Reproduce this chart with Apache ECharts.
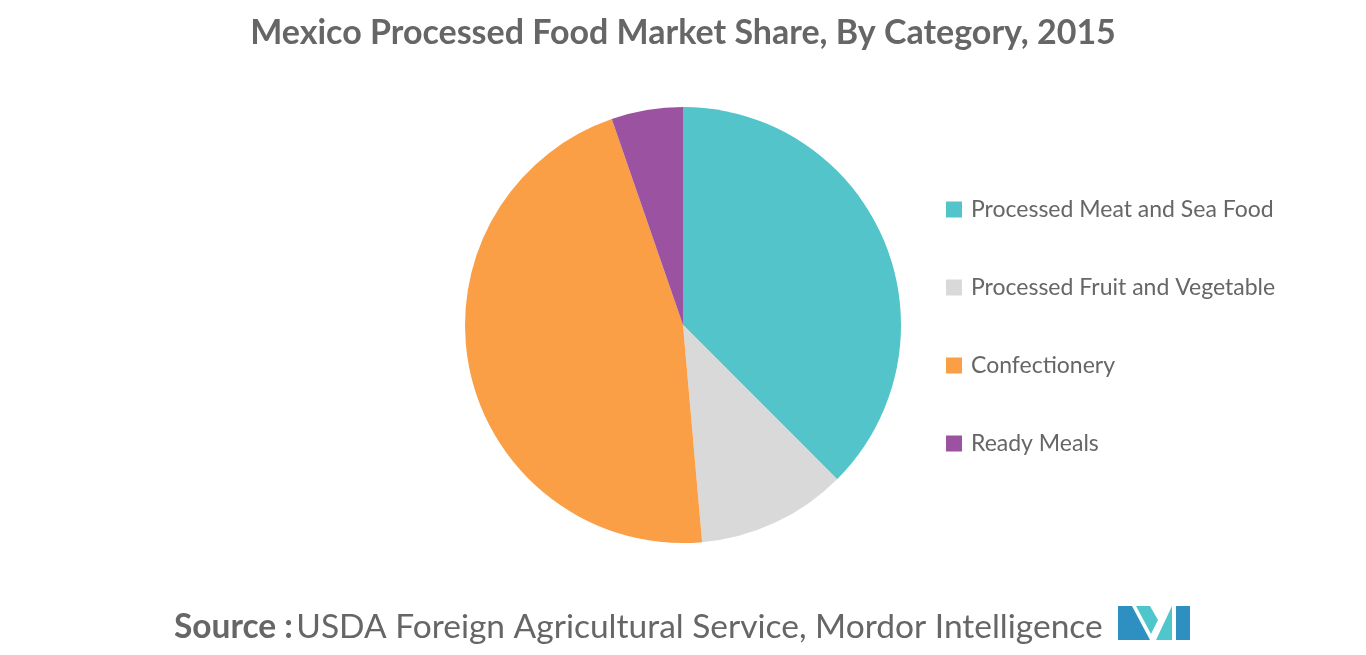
<!DOCTYPE html>
<html>
<head>
<meta charset="utf-8">
<script src="https://cdn.jsdelivr.net/npm/echarts@6/dist/echarts.min.js"></script>
<style>html,body{margin:0;padding:0;background:#fff}#main{width:1366px;height:655px}</style>
</head>
<body>
<div id="main"></div>
<script>
// 数据
const categories = ['Processed Meat and Sea Food', 'Processed Fruit and Vegetable', 'Confectionery', 'Ready Meals'];
const shares = [37.5, 11.1, 46.1, 5.3];
const colors = ['#52c4ca', '#d9d9d9', '#fb9f47', '#9b52a0'];

const chart = echarts.init(document.getElementById('main'));
const option = {
    animation: false,
    title: {
        text: 'Mexico Processed Food Market Share, By Category, 2015',
        left: 'center',
        top: 11,
        textStyle: { fontFamily: 'Lato', fontSize: 34, fontWeight: 'bold', color: '#666' }
    },
    legend: {
        orient: 'vertical',
        left: 941,
        top: 193,
        itemWidth: 16,
        itemHeight: 16,
        itemGap: 55,
        icon: 'rect',
        textStyle: { fontFamily: 'Lato', fontSize: 23, color: '#666', padding: [0, 0, 0, 4] },
        data: categories
    },
    graphic: [
        {
            type: 'text', left: 174, top: 610,
            style: {
                rich: {
                    b: { fontFamily: 'Lato', fontSize: 33.5, fontWeight: 'bold', fill: '#666' },
                    n: { fontFamily: 'Lato', fontSize: 33.5, fill: '#666' }
                },
                text: '{b|Source :} {n|USDA Foreign Agricultural Service, Mordor Intelligence}'
            }
        },
        { type: 'polygon', shape: { points: [[1118, 640], [1118, 606], [1132, 606], [1150, 640]] }, style: { fill: '#2e8fc1' } },
        { type: 'polygon', shape: { points: [[1136, 606], [1150, 606], [1158, 620], [1151, 634]] }, style: { fill: '#4fc6cc' } },
        { type: 'polygon', shape: { points: [[1156, 640], [1172, 606], [1172, 640]] }, style: { fill: '#4fc6cc' } },
        { type: 'polygon', shape: { points: [[1176, 606], [1190, 606], [1190, 640], [1176, 640]] }, style: { fill: '#2e8fc1' } }
    ],
    series: [{
        type: 'pie',
        center: [683, 325],
        radius: 218,
        startAngle: 90,
        clockwise: true,
        label: { show: false },
        labelLine: { show: false },
        data: categories.map((c, i) => ({ name: c, value: shares[i], itemStyle: { color: colors[i] } }))
    }]
};
chart.setOption(option);
</script>
</body>
</html>
